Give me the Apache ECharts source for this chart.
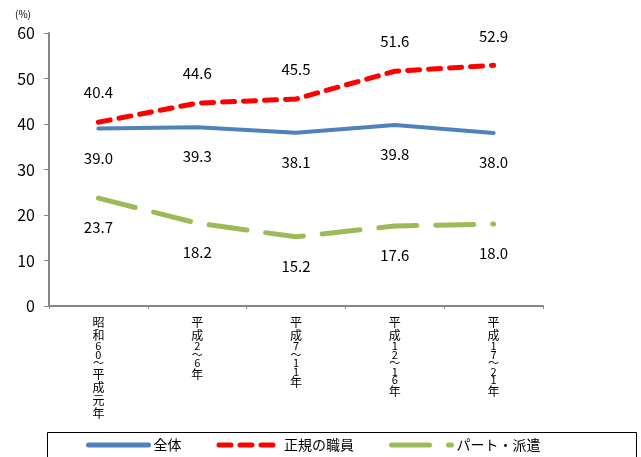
<!DOCTYPE html>
<html>
<head>
<meta charset="utf-8">
<script src="https://cdn.jsdelivr.net/npm/echarts@6/dist/echarts.min.js"></script>
<style>
  html, body { margin: 0; padding: 0; background: #fff; }
  #chart { width: 641px; height: 457px; }
</style>
</head>
<body>
<div id="chart"></div>
<script>
const categories = ['昭和60～平成元年', '平成2～6年', '平成7～11年', '平成12～16年', '平成17～21年']
const zentai = [39.0, 39.3, 38.1, 39.8, 38.0]
const seiki = [40.4, 44.6, 45.5, 51.6, 52.9]
const part = [23.7, 18.2, 15.2, 17.6, 18.0]
const seriesNames = ['全体', '正規の職員', 'パート・派遣']

const font = '"Noto Sans CJK JP", "Noto Sans", sans-serif'

function makeLabel (pos) {
  return {
    show: true,
    position: pos,
    distance: 22,
    color: '#000',
    fontSize: 15,
    fontFamily: font,
    formatter: (p) => p.value.toFixed(1)
  }
}

// 縦書きラベル：漢字は1行ずつ、数字・～は詰めて並べる
function verticalLabel (v) {
  return v.split('').map((c) => {
    return /[0-9～]/.test(c) ? '{d|' + c + '}' : '{c|' + c + '}'
  }).join('\n')
}

function lineSeries (name, data, color, width, dash, pos, z) {
  return {
    name,
    type: 'line',
    data,
    symbol: 'circle',
    symbolSize: 0.01,
    color,
    lineStyle: { width, color, type: dash, cap: 'round' },
    label: makeLabel(pos),
    z
  }
}

const myChart = echarts.init(document.getElementById('chart'))
myChart.setOption({
  animation: false,
  textStyle: { fontFamily: font },
  grid: { left: 49, top: 33, right: 98, bottom: 151 },
  graphic: [
    {
      type: 'rect',
      shape: { x: 47.5, y: 432.5, width: 589, height: 40 },
      style: { fill: 'none', stroke: '#000', lineWidth: 1 }
    },
    {
      type: 'text',
      left: 15,
      top: 9,
      style: { text: '(%)', fontSize: 10, fill: '#000', fontFamily: font }
    }
  ],
  legend: {
    left: 86,
    top: 438,
    padding: 0,
    itemWidth: 60,
    itemHeight: 14,
    itemGap: 35,
    itemStyle: { opacity: 0 },
    lineStyle: { width: 5 },
    textStyle: { fontSize: 14, color: '#000', fontFamily: font },
    data: seriesNames
  },
  xAxis: {
    type: 'category',
    data: categories,
    axisLine: { lineStyle: { color: '#868686', width: 2 } },
    axisTick: { show: true, length: 3, lineStyle: { color: '#868686' } },
    axisLabel: {
      color: '#000',
      margin: 10,
      interval: 0,
      verticalAlign: 'top',
      formatter: verticalLabel,
      rich: {
        c: { fontSize: 12, lineHeight: 13, color: '#000' },
        d: { fontSize: 11, lineHeight: 8.5, color: '#000' }
      }
    }
  },
  yAxis: {
    type: 'value',
    min: 0,
    max: 60,
    interval: 10,
    axisLine: { show: true, lineStyle: { color: '#868686', width: 2 } },
    axisTick: { show: true, length: 5, lineStyle: { color: '#868686' } },
    splitLine: { show: false },
    axisLabel: { color: '#000', fontSize: 16, margin: 14 }
  },
  series: [
    lineSeries(seriesNames[0], zentai, '#4F81BD', 4, 'solid', 'bottom', 3),
    lineSeries(seriesNames[1], seiki, '#FF0000', 5, [12, 9], 'top', 4),
    lineSeries(seriesNames[2], part, '#9BBB59', 5, [38, 19], 'bottom', 2)
  ]
})
</script>
</body>
</html>
